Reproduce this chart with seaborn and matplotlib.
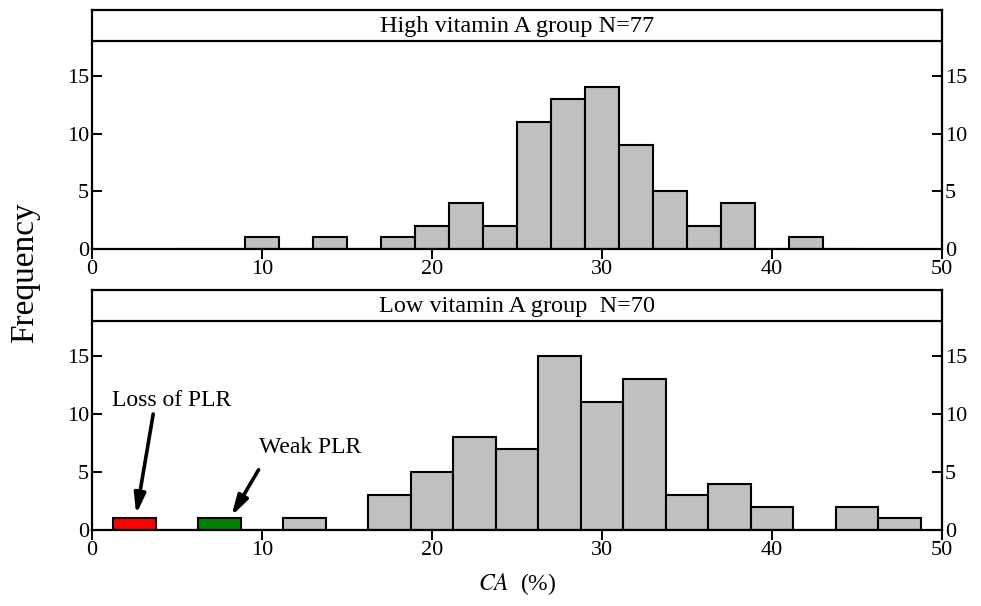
import numpy as np
import pandas as pd
import matplotlib
matplotlib.use("Agg")
import matplotlib.pyplot as plt
import seaborn as sns

# ---- data ----
high_edges = [5, 7, 9, 11, 13, 15, 17, 19, 21, 23, 25, 27, 29, 31, 33, 35, 37, 39, 41, 43, 45]
high_counts = [0, 0, 1, 0, 1, 0, 1, 2, 4, 2, 11, 13, 14, 9, 5, 2, 4, 0, 1, 0]

low_edges = [1.25, 3.75, 6.25, 8.75, 11.25, 13.75, 16.25, 18.75, 21.25, 23.75, 26.25,
             28.75, 31.25, 33.75, 36.25, 38.75, 41.25, 43.75, 46.25, 48.75]
low_counts = [1, 0, 1, 0, 1, 0, 3, 5, 8, 7, 15, 11, 13, 3, 4, 2, 0, 2, 1]

high_title = "High vitamin A group N=77"
low_title = "Low vitamin A group  N=70"
x_ticks = [0, 10, 20, 30, 40, 50]
y_ticks = [0, 5, 10, 15]

sns.set_theme(style="ticks")
plt.rcParams["font.family"] = ["Liberation Serif", "DejaVu Serif"]
plt.rcParams["mathtext.fontset"] = "stix"
plt.rcParams["text.color"] = "black"
plt.rcParams["axes.labelcolor"] = "black"
plt.rcParams["xtick.color"] = "black"
plt.rcParams["ytick.color"] = "black"

fig = plt.figure(figsize=(9.81, 6.06), dpi=100)
L, W = 92 / 981, 850 / 981
ax1 = fig.add_axes([L, 1 - 249 / 606, W, 239 / 606])
ax2 = fig.add_axes([L, 1 - 530 / 606, W, 240 / 606])

YTOP = 20.7
GRAY = "#c0c0c0"


def panel(ax, edges, counts, title):
    e = [float(v) for v in edges]
    centers = [(a + b) / 2 for a, b in zip(e[:-1], e[1:])]
    df = pd.DataFrame({"x": centers, "w": [float(c) for c in counts]})
    sns.histplot(data=df, x="x", weights="w", bins=e, ax=ax, color=GRAY,
                 alpha=1, edgecolor="black", linewidth=1.5, element="bars")
    ax.set_xlim(0, 50)
    ax.set_ylim(0, YTOP)
    ax.axhline(18, color="black", lw=1.6, zorder=5)
    ax.text(25, 19.3, title, ha="center", va="center", fontsize=17.5,
            color="black")
    ax.set_xticks(x_ticks)
    ax.set_yticks(y_ticks)
    ax.set_xlabel("")
    ax.set_ylabel("")
    for s in ax.spines.values():
        s.set_visible(True)
        s.set_linewidth(1.6)
        s.set_color("black")
    ax.tick_params(axis="x", direction="out", length=7, width=1.4,
                   labelsize=16, pad=1, colors="black")
    ax.tick_params(axis="y", direction="in", length=7, width=1.4,
                   labelsize=16, left=True, right=True,
                   labelleft=True, labelright=True, pad=2, colors="black")
    return ax


panel(ax1, high_edges, high_counts, high_title)
panel(ax2, low_edges, low_counts, low_title)

# colour the PLR bins in the low group
patches = ax2.patches
patches[0].set_facecolor("#ff0000")
patches[2].set_facecolor("#008000")

arrow = dict(arrowstyle="-|>,head_length=1.0,head_width=0.28",
             color="black", lw=2.6, shrinkA=0, shrinkB=0)
ax2.annotate("", xy=(2.6, 1.35), xytext=(3.6, 10.0), arrowprops=arrow)
ax2.text(1.2, 11.2, "Loss of PLR", ha="left", va="center", fontsize=17,
         color="black")
ax2.annotate("", xy=(8.2, 1.2), xytext=(9.8, 5.2), arrowprops=arrow)
ax2.text(9.8, 7.1, "Weak PLR", ha="left", va="center", fontsize=17,
         color="black")

ax2.set_xlabel(r"$\mathit{CA}$  (%)", fontsize=17, labelpad=8, color="black")
fig.text(25 / 981, 1 - 273 / 606, "Frequency", rotation=90, ha="center",
         va="center", fontsize=24, color="black")

fig.savefig("out.png", dpi=100)
